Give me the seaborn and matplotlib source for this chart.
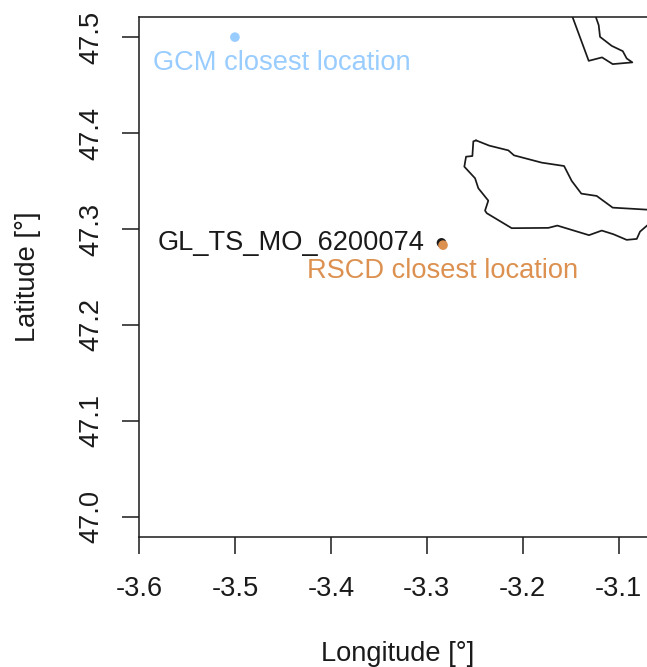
import pandas as pd
import matplotlib.pyplot as plt
import seaborn as sns

# Coast outlines (lon, lat)
coast_a_lon = [-3.2486, -3.2347, -3.2149, -3.2090, -3.1801, -3.1568, -3.1488, -3.1388, -3.1228, -3.1061,
               -3.0703, -3.0500, -3.0703, -3.0776, -3.0810, -3.0915, -3.1054, -3.1175, -3.1308, -3.1638,
               -3.1732, -3.2114, -3.2374, -3.2392, -3.2358, -3.2462, -3.2496, -3.2608, -3.2590, -3.2524,
               -3.2514, -3.2486]
coast_a_lat = [47.3924, 47.3869, 47.3820, 47.3768, 47.3692, 47.3657, 47.3501, 47.3369, 47.3345, 47.3223,
               47.3202, 47.3195, 47.3036, 47.2973, 47.2897, 47.2887, 47.2946, 47.2984, 47.2936, 47.3036,
               47.3012, 47.3009, 47.3165, 47.3192, 47.3296, 47.3425, 47.3529, 47.3650, 47.3754, 47.3761,
               47.3914, 47.3924]
coast_b_lon = [-3.1495, -3.1478, -3.1311, -3.1172, -3.1061, -3.0856, -3.0915, -3.0956, -3.1071, -3.1193,
               -3.1207, -3.1235, -3.1225]
coast_b_lat = [47.5260, 47.5205, 47.4753, 47.4789, 47.4719, 47.4737, 47.4778, 47.4854, 47.4909, 47.5003,
               47.5125, 47.5205, 47.5260]

# Locations
point_names = ['GCM closest location', 'GL_TS_MO_6200074', 'RSCD closest location']
point_lon = [-3.5, -3.2846, -3.283]
point_lat = [47.5, 47.2856, 47.2832]
point_colors = ['#99CCFF', '#1a1a1a', '#DC9150']
label_lon = [-3.4509, -3.4415, -3.283]
label_lat = [47.4735, 47.2851, 47.2559]

lon_ticks = [-3.6, -3.5, -3.4, -3.3, -3.2, -3.1]
lat_ticks = [47.0, 47.1, 47.2, 47.3, 47.4, 47.5]

sns.set_style('white')
plt.rcParams['font.family'] = ['Liberation Sans', 'DejaVu Sans']

W, H = 647, 667
fig = plt.figure(figsize=(W / 100, H / 100), dpi=100)
# the plot box runs past the right side of the picture
ax = fig.add_axes([139 / W, 1 - 537 / H, (657 - 139) / W, (537 - 17) / H])

coast_a = pd.DataFrame({'lon': coast_a_lon, 'lat': coast_a_lat})
coast_b = pd.DataFrame({'lon': coast_b_lon, 'lat': coast_b_lat})
for coast in [coast_a, coast_b]:
    sns.lineplot(x='lon', y='lat', data=coast, sort=False, estimator=None, color='#1a1a1a', linewidth=1.25, ax=ax)

points = pd.DataFrame({'lon': point_lon, 'lat': point_lat, 'name': point_names})
sns.scatterplot(x='lon', y='lat', hue='name', palette=dict(zip(point_names, point_colors)), data=points,
                s=48, linewidth=0, legend=False, ax=ax, zorder=3)

for name, x, y, c in zip(point_names, label_lon, label_lat, point_colors):
    ax.text(x, y, name, color=c, fontsize=19.6, ha='center', va='center')

ax.set_xlim(-3.6, -3.0599)
ax.set_ylim(46.979, 47.521)
ax.set_xticks(lon_ticks)
ax.set_xticklabels([str(t) for t in lon_ticks])
ax.set_yticks(lat_ticks)
ax.set_yticklabels([f'{t:.1f}' for t in lat_ticks], rotation=90, va='center')
ax.tick_params(axis='both', length=12, width=1.1, color='#1a1a1a', labelsize=19.6, labelcolor='#1a1a1a', left=True, bottom=True)
ax.tick_params(axis='x', pad=16)
ax.tick_params(axis='y', pad=13)
ax.set_xlabel('Longitude [°]', fontsize=19.6, color='#1a1a1a', labelpad=28.5)
ax.set_ylabel('Latitude [°]', fontsize=19.6, color='#1a1a1a', labelpad=27)
for s in ax.spines.values():
    s.set_color('#1a1a1a')
    s.set_linewidth(1.1)

fig.savefig('out.png', dpi=100)
